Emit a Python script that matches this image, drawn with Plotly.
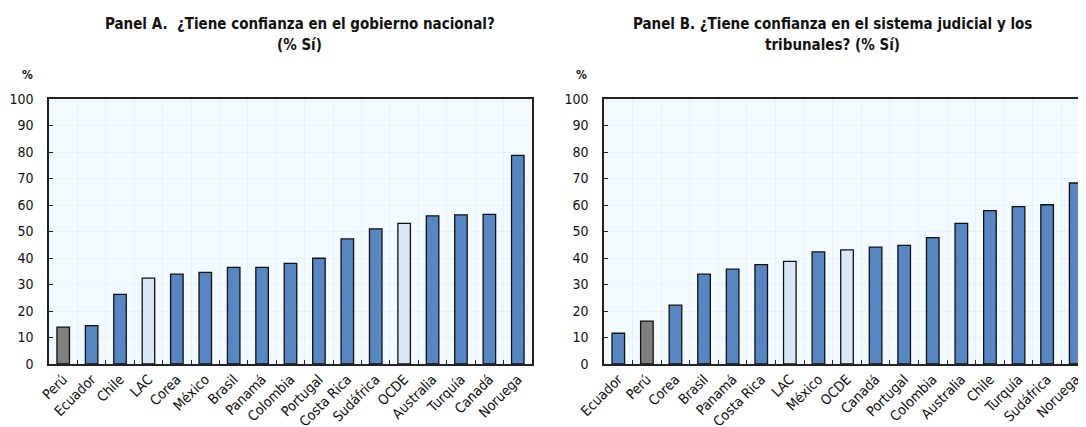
import plotly.graph_objects as go

cats_a = ["Perú", "Ecuador", "Chile", "LAC", "Corea", "México", "Brasil", "Panamá",
          "Colombia", "Portugal", "Costa Rica", "Sudáfrica", "OCDE", "Australia",
          "Turquía", "Canadá", "Noruega"]
vals_a = [13.9, 14.5, 26.3, 32.4, 33.9, 34.6, 36.5, 36.5, 38.0, 39.9, 47.2, 51.0,
          53.1, 55.9, 56.3, 56.5, 78.7]

cats_b = ["Ecuador", "Perú", "Corea", "Brasil", "Panamá", "Costa Rica", "LAC", "México",
          "OCDE", "Canadá", "Portugal", "Colombia", "Australia", "Chile", "Turquía",
          "Sudáfrica", "Noruega"]
vals_b = [11.6, 16.2, 22.2, 33.9, 35.8, 37.5, 38.7, 42.3, 43.1, 44.1, 44.8, 47.7,
          53.1, 57.9, 59.4, 60.1, 68.3]

y_ticks = [0, 10, 20, 30, 40, 50, 60, 70, 80, 90, 100]

title_a = ["Panel A.  ¿Tiene confianza en el gobierno nacional?", "(% Sí)"]
title_b = ["Panel B. ¿Tiene confianza en el sistema judicial y los", "tribunales? (% Sí)"]

BLUE = "#5687c4"
GREY = "#808080"
LIGHT = "#d9e6f7"


def colors(cats):
    out = []
    for c in cats:
        if c == "Perú":
            out.append(GREY)
        elif c in ("LAC", "OCDE"):
            out.append(LIGHT)
        else:
            out.append(BLUE)
    return out


FONT = "DejaVu Sans Condensed, Liberation Sans Narrow, Arial Narrow, Liberation Sans, Arial"

W, H = 1086, 427
OFF = 8  # page body margin offset


def fx(x):
    return (x - OFF) / W


def fy(y):
    return 1 - (y - OFF) / H


fig = go.Figure()
fig.add_trace(go.Bar(x=cats_a, y=vals_a, marker=dict(color=colors(cats_a),
                     line=dict(color="#111111", width=1.3)), width=0.44,
                     xaxis="x", yaxis="y", showlegend=False))
fig.add_trace(go.Bar(x=cats_b, y=vals_b, marker=dict(color=colors(cats_b),
                     line=dict(color="#111111", width=1.3)), width=0.44,
                     xaxis="x2", yaxis="y2", showlegend=False))

xcommon = dict(type="category", tickson="boundaries", ticks="inside", ticklen=4,
               tickcolor="#222", showline=True, linecolor="#222", linewidth=1.5,
               mirror=True, showgrid=True, gridcolor="#e9f1f6", gridwidth=1,
               tickangle=-45, tickfont=dict(family=FONT, size=14, color="#111"),
               fixedrange=True, automargin=False, range=[-0.5, 16.5])
ycommon = dict(range=[0, 100], tickvals=y_ticks, ticks="inside", ticklen=4,
               tickcolor="#222", showline=True, linecolor="#222", linewidth=1.5,
               showgrid=True, gridcolor="#e9f1f6", zeroline=False,
               tickfont=dict(family=FONT, size=14, color="#111"), fixedrange=True,
               automargin=False, ticklabelstandoff=11)

annotations = []
for text, x, y in [(title_a[0], 300, 24), (title_a[1], 299, 45),
                   (title_b[0], 832, 24), (title_b[1], 832, 45)]:
    annotations.append(dict(text="<b>" + text + "</b>", x=fx(x), y=fy(y),
                            xref="paper", yref="paper", showarrow=False,
                            xanchor="center", yanchor="middle",
                            font=dict(family=FONT, size=15, color="#111")))
for x in (27, 581):
    annotations.append(dict(text="<b>%</b>", x=fx(x), y=fy(75), xref="paper",
                            yref="paper", showarrow=False, xanchor="center",
                            yanchor="middle",
                            font=dict(family=FONT, size=12, color="#111")))

fig.update_layout(
    width=W, height=H,
    margin=dict(l=0, r=0, t=0, b=0, autoexpand=False),
    paper_bgcolor="white",
    plot_bgcolor="#f3faff",
    xaxis=dict(domain=[fx(49), fx(532)], anchor="y", **xcommon),
    yaxis=dict(domain=[fy(364), fy(99)], anchor="x", mirror=True, **ycommon),
    xaxis2=dict(domain=[fx(604), fx(1090)], anchor="y2", **xcommon),
    yaxis2=dict(domain=[fy(364), fy(99)], anchor="x2", mirror=False, **ycommon),
    annotations=annotations,
)

fig.write_html("out.html")
